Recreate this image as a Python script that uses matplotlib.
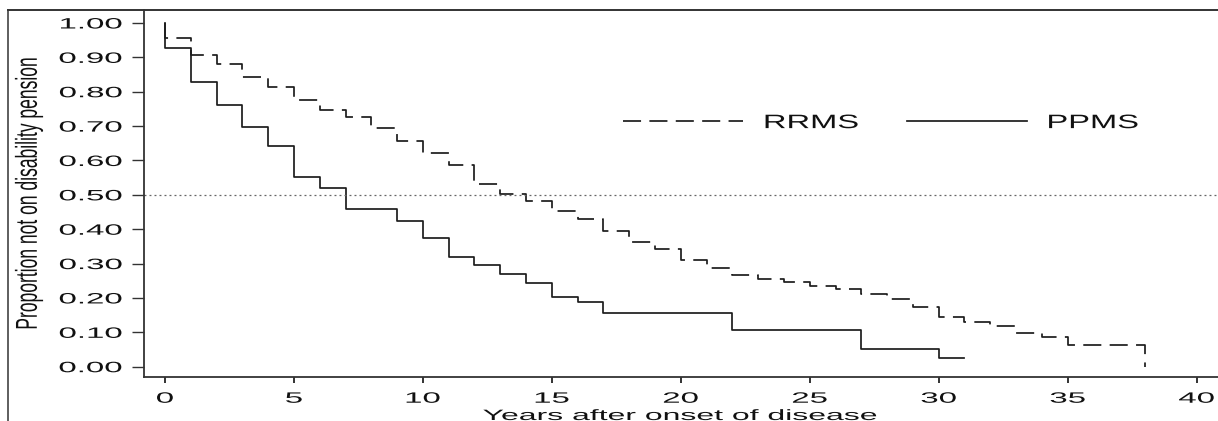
import matplotlib
matplotlib.use("Agg")
import matplotlib.pyplot as plt
from matplotlib.lines import Line2D
from matplotlib.patheffects import AbstractPathEffect
from matplotlib.transforms import Affine2D

# Kaplan-Meier estimates: year of each downward step and the proportion remaining after it
rrms_years = [0, 1, 2, 3, 4, 5, 6, 7, 8, 9, 10, 11, 12, 13, 14, 15, 16, 17, 18,
              19, 20, 21, 22, 23, 24, 25, 26, 27, 28, 29, 30, 31, 32, 33, 34, 35, 38]
rrms_surv = [0.956, 0.907, 0.880, 0.842, 0.813, 0.776, 0.747, 0.726, 0.695, 0.657,
             0.621, 0.587, 0.531, 0.502, 0.482, 0.453, 0.430, 0.396, 0.364, 0.342,
             0.310, 0.286, 0.267, 0.255, 0.247, 0.236, 0.225, 0.211, 0.197, 0.175,
             0.145, 0.129, 0.119, 0.099, 0.087, 0.063, 0.000]

ppms_years = [0, 1, 2, 3, 4, 5, 6, 7, 9, 10, 11, 12, 13, 14, 15, 16, 17, 22, 27, 30]
ppms_surv = [0.926, 0.827, 0.761, 0.697, 0.643, 0.552, 0.519, 0.460, 0.424, 0.374,
             0.320, 0.295, 0.271, 0.244, 0.204, 0.189, 0.157, 0.107, 0.052, 0.026]
ppms_last_followup = 31

series_names = ["RRMS", "PPMS"]
x_ticks = [0, 5, 10, 15, 20, 25, 30, 35, 40]
y_ticks = [0.0, 0.1, 0.2, 0.3, 0.4, 0.5, 0.6, 0.7, 0.8, 0.9, 1.0]
y_tick_labels = ["0.00", "0.10", "0.20", "0.30", "0.40", "0.50",
                 "0.60", "0.70", "0.80", "0.90", "1.00"]
median_line = 0.5

x_title = "Years after onset of disease"
y_title = "Proportion not on disability pension"


class Widen(AbstractPathEffect):
    """Draw text glyphs horizontally widened about a chosen anchor."""

    def __init__(self, sx, anchor="center"):
        super().__init__()
        self.sx = sx
        self.anchor = anchor

    def draw_path(self, renderer, gc, tpath, affine, rgbFace=None):
        ext = tpath.get_extents(affine)
        if self.anchor == "left":
            x0 = ext.x0
        elif self.anchor == "right":
            x0 = ext.x1
        else:
            x0 = 0.5 * (ext.x0 + ext.x1)
        stretch = Affine2D().translate(-x0, 0).scale(self.sx, 1.0).translate(x0, 0)
        renderer.draw_path(gc, tpath, affine + stretch, rgbFace)


plt.rcParams["font.family"] = ["Liberation Sans", "DejaVu Sans"]
plt.rcParams["lines.scale_dashes"] = False

W, H = 1218, 421
fig = plt.figure(figsize=(W / 100, H / 100), dpi=100)
fig.patch.set_facecolor("white")

ax = fig.add_axes([144 / W, 44 / H, 1 - 144 / W, 367 / H])
ink = "#1c1c1c"
frame = "#333333"

# step curves
rx = [0] + rrms_years
ry = [1.0] + rrms_surv
px = [0] + ppms_years + [ppms_last_followup]
py = [1.0] + ppms_surv + [ppms_surv[-1]]

ax.step(rx, ry, where="post", color=ink, lw=1.25, dashes=(13, 6),
        label=series_names[0])
ax.step(px, py, where="post", color=ink, lw=1.25, label=series_names[1])
ax.axhline(median_line, color="#666666", lw=0.9, linestyle=(0, (1.4, 2.2)))

ax.set_xlim(-0.814, 40.83)
ax.set_ylim(-0.030, 1.0378)

ax.set_xticks(x_ticks)
ax.set_xticklabels([str(t) for t in x_ticks])
ax.set_yticks(y_ticks)
ax.set_yticklabels(y_tick_labels)

for s in ("top", "right"):
    ax.spines[s].set_visible(False)
for s in ("left", "bottom"):
    ax.spines[s].set_color(frame)
    ax.spines[s].set_linewidth(1.3)

ax.tick_params(axis="y", direction="out", length=8.6, width=1.0, color=frame,
               pad=7.0, labelsize=10.8, labelcolor="#111111")
ax.tick_params(axis="x", direction="out", length=4.3, width=1.4, color=frame,
               pad=6.3, labelsize=10.8, labelcolor="#111111")

for lab in ax.get_yticklabels():
    lab.set_path_effects([Widen(2.2, "right")])
for lab in ax.get_xticklabels():
    lab.set_path_effects([Widen(2.2, "center")])

# axis titles
xl = ax.set_xlabel(x_title, fontsize=10.8, color="#111111")
xl.set_verticalalignment("baseline")
ax.xaxis.set_label_coords(680 / W, 1.0 / H, transform=fig.transFigure)
xl.set_path_effects([Widen(2.13, "center")])

yl = ax.set_ylabel(y_title, fontsize=12.6, color="#111111")
yl.set_rotation_mode("default")
yl.set_horizontalalignment("center")
yl.set_verticalalignment("center")
ax.yaxis.set_label_coords(29 / W, (H - 193.5) / H, transform=fig.transFigure)
yl.set_path_effects([Widen(1.73, "center")])

# legend
leg_fs = 14.0
fs_px = leg_fs * 100 / 72
leg = ax.legend(loc="center left", bbox_to_anchor=(623 / W, (H - 123.3) / H),
                bbox_transform=fig.transFigure, ncol=2, frameon=False,
                fontsize=leg_fs, handlelength=120 / fs_px,
                handletextpad=21 / fs_px, columnspacing=85 / fs_px,
                borderpad=0, borderaxespad=0)
for t in leg.get_texts():
    t.set_color("#111111")
    t.set_path_effects([Widen(1.68, "left")])

# outer border of the graph region
fig.add_artist(Line2D([8 / W, 8 / W], [0, (H - 10) / H], transform=fig.transFigure,
                      color=frame, lw=1.1))
fig.add_artist(Line2D([8 / W, 1.0], [(H - 10) / H, (H - 10) / H],
                      transform=fig.transFigure, color=frame, lw=1.4))

fig.savefig("out.png", dpi=100)
